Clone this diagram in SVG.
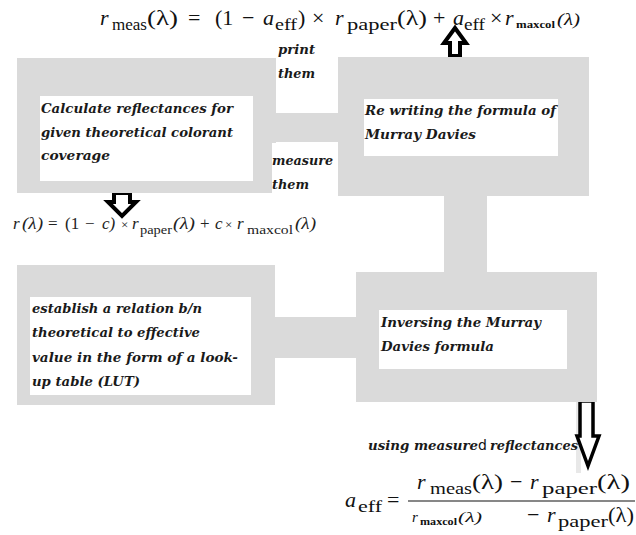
<svg xmlns="http://www.w3.org/2000/svg" width="636" height="535" viewBox="0 0 636 535">
<style>
.bg{fill:#dadada}
.wb{fill:#ffffff}
.lbl{font-family:'DejaVu Serif','Liberation Serif',serif;font-weight:bold;font-style:italic;font-size:12.5px;fill:#1a1a1a}
.f{font-family:'Liberation Serif',serif;fill:#111;font-size:22px}
.fm{font-family:'Liberation Serif',serif;fill:#222;font-size:17px}
.i{font-style:italic}
.s{font-size:16px}
.ss{font-size:11px;font-weight:bold}
.arr{fill:#ffffff;stroke:#000;stroke-width:4;stroke-linejoin:miter}
</style>
<rect width="636" height="535" fill="#ffffff"/>

<g id="connectors">
  <rect class="bg" x="274" y="113" width="66" height="29"/>
  <rect class="bg" x="444" y="194" width="43" height="80"/>
  <rect class="bg" x="273" y="317" width="85" height="41"/>
  <rect x="576" y="402" width="5" height="71" fill="#e8e8e8"/>
  <path class="arr" d="M455,28 L466,43 L460,43 L460,56 L450,56 L450,43 L444,43 Z"/>
  <path class="arr" d="M114,193 L130,193 L130,202 L136,202 L122,216 L108,202 L114,202 Z"/>
  <path class="arr" style="stroke-width:3.5" d="M580,401 L593,401 L593,436 L599,436 L588,466 L577,436 L580,436 Z"/>
</g>

<g id="node-calc">
  <rect class="bg" x="17" y="58" width="259" height="135"/>
  <rect class="wb" x="40" y="96" width="213" height="85"/>
  <text class="lbl" x="41" y="113" textLength="192" lengthAdjust="spacingAndGlyphs">Calculate reflectances for</text>
  <text class="lbl" x="41" y="137" textLength="192" lengthAdjust="spacingAndGlyphs">given theoretical colorant</text>
  <text class="lbl" x="41" y="160" textLength="69" lengthAdjust="spacingAndGlyphs">coverage</text>
</g>

<g id="node-print">
  <rect class="wb" x="276" y="40" width="62" height="73"/>
  <text class="lbl" x="278" y="54" textLength="37" lengthAdjust="spacingAndGlyphs">print</text>
  <text class="lbl" x="278" y="78" textLength="37" lengthAdjust="spacingAndGlyphs">them</text>
</g>

<g id="node-measure">
  <rect class="wb" x="272" y="143" width="66" height="53"/>
  <text class="lbl" x="272" y="165" textLength="61" lengthAdjust="spacingAndGlyphs">measure</text>
  <text class="lbl" x="272" y="189" textLength="37" lengthAdjust="spacingAndGlyphs">them</text>
</g>

<g id="node-rewrite">
  <rect class="bg" x="338" y="57" width="251" height="139"/>
  <rect class="wb" x="364" y="99" width="194" height="57"/>
  <text class="lbl" x="365" y="115" textLength="191" lengthAdjust="spacingAndGlyphs">Re writing the formula of</text>
  <text class="lbl" x="365" y="139" textLength="111" lengthAdjust="spacingAndGlyphs">Murray Davies</text>
</g>

<g id="node-inverse">
  <rect class="bg" x="356" y="272" width="241" height="130"/>
  <rect class="wb" x="379" y="310" width="188" height="59"/>
  <text class="lbl" x="381" y="327" textLength="160" lengthAdjust="spacingAndGlyphs">Inversing the Murray</text>
  <text class="lbl" x="381" y="351" textLength="113" lengthAdjust="spacingAndGlyphs">Davies formula</text>
</g>

<g id="node-lut">
  <rect class="bg" x="17" y="265" width="258" height="140"/>
  <rect class="wb" x="30" y="297" width="221" height="98"/>
  <text class="lbl" x="32" y="313" textLength="170" lengthAdjust="spacingAndGlyphs">establish a relation b/n</text>
  <text class="lbl" x="32" y="337" textLength="168" lengthAdjust="spacingAndGlyphs">theoretical to effective</text>
  <text class="lbl" x="32" y="362" textLength="206" lengthAdjust="spacingAndGlyphs">value in the form of a look-</text>
  <text class="lbl" x="32" y="386" textLength="108" lengthAdjust="spacingAndGlyphs">up table (LUT)</text>
</g>

<g id="formula-top">
  <text class="f i" x="100" y="25">r</text>
  <text class="f s" x="112" y="30" textLength="35" lengthAdjust="spacingAndGlyphs">meas</text>
  <text class="f" x="147" y="25" textLength="31" lengthAdjust="spacingAndGlyphs">(λ)</text>
  <text class="f" x="188" y="25">=</text>
  <text class="f" x="215" y="25">(1</text>
  <text class="f" x="242" y="25">−</text>
  <text class="f i" x="263" y="25">a</text>
  <text class="f s" x="275" y="30" textLength="22" lengthAdjust="spacingAndGlyphs">eff</text>
  <text class="f" x="298" y="25">)</text>
  <text class="f" x="312" y="25">×</text>
  <text class="f i" x="335" y="25">r</text>
  <text class="f s" x="347" y="30" textLength="50" lengthAdjust="spacingAndGlyphs">paper</text>
  <text class="f" x="397" y="25" textLength="30" lengthAdjust="spacingAndGlyphs">(λ)</text>
  <text class="f" x="433" y="25">+</text>
  <text class="f i" x="453" y="25">a</text>
  <text class="f s" x="464" y="30" textLength="21" lengthAdjust="spacingAndGlyphs">eff</text>
  <text class="f" x="490" y="25">×</text>
  <text class="f i" x="505" y="25">r</text>
  <text class="f ss" x="516" y="28" textLength="39" lengthAdjust="spacingAndGlyphs">maxcol</text>
  <text class="f i" x="557" y="25" style="font-size:17px" textLength="23" lengthAdjust="spacingAndGlyphs">(λ)</text>
</g>

<g id="formula-mid">
  <text class="fm i" x="13" y="229">r</text>
  <text class="fm i" x="22" y="229" textLength="21" lengthAdjust="spacingAndGlyphs">(λ)</text>
  <text class="fm" x="48" y="229">=</text>
  <text class="fm" x="65" y="229">(1</text>
  <text class="fm" x="85" y="229">−</text>
  <text class="fm i" x="102" y="229">c)</text>
  <text class="fm" x="121" y="229" style="font-size:13px">×</text>
  <text class="fm i" x="132" y="229">r</text>
  <text class="fm" x="140" y="234" style="font-size:13px" textLength="32" lengthAdjust="spacingAndGlyphs">paper</text>
  <text class="fm i" x="173" y="229" textLength="22" lengthAdjust="spacingAndGlyphs">(λ)</text>
  <text class="fm" x="200" y="229">+</text>
  <text class="fm i" x="215" y="229">c</text>
  <text class="fm" x="225" y="229" style="font-size:13px">×</text>
  <text class="fm i" x="237" y="229">r</text>
  <text class="fm" x="247" y="234" style="font-size:13px" textLength="46" lengthAdjust="spacingAndGlyphs">maxcol</text>
  <text class="fm i" x="295" y="229" textLength="21" lengthAdjust="spacingAndGlyphs">(λ)</text>
</g>

<g id="formula-bottom">
  <text class="lbl" x="368" y="450" textLength="110" lengthAdjust="spacingAndGlyphs">using measure</text>
  <text x="478" y="450" style="font-family:'DejaVu Sans',sans-serif;font-size:14px;fill:#111">d</text>
  <text class="lbl" x="490" y="450" textLength="88" lengthAdjust="spacingAndGlyphs">reflectances</text>

  <text class="f i" x="345" y="507">a</text>
  <text class="f s" x="358" y="512" textLength="24" lengthAdjust="spacingAndGlyphs">eff</text>
  <text class="f" x="387" y="507">=</text>
  <line x1="408" y1="501" x2="635" y2="501" stroke="#111" stroke-width="1.2"/>
  <text class="f i" x="417" y="489">r</text>
  <text class="f s" x="430" y="494" textLength="42" lengthAdjust="spacingAndGlyphs">meas</text>
  <text class="f" x="472" y="489" textLength="31" lengthAdjust="spacingAndGlyphs">(λ)</text>
  <text class="f" x="510" y="489">−</text>
  <text class="f i" x="530" y="489">r</text>
  <text class="f s" x="542" y="494" textLength="55" lengthAdjust="spacingAndGlyphs">paper</text>
  <text class="f" x="597" y="489" textLength="33" lengthAdjust="spacingAndGlyphs">(λ)</text>

  <text class="f i" x="412" y="522" style="font-size:15px">r</text>
  <text class="f ss" x="420" y="525" textLength="37" lengthAdjust="spacingAndGlyphs">maxcol</text>
  <text class="f i" x="458" y="522" style="font-size:15px" textLength="24" lengthAdjust="spacingAndGlyphs">(λ)</text>
  <text class="f" x="527" y="522">−</text>
  <text class="f i" x="547" y="522">r</text>
  <text class="f s" x="558" y="527" textLength="50" lengthAdjust="spacingAndGlyphs">paper</text>
  <text class="f" x="608" y="522" textLength="26" lengthAdjust="spacingAndGlyphs">(λ)</text>
</g>
</svg>
